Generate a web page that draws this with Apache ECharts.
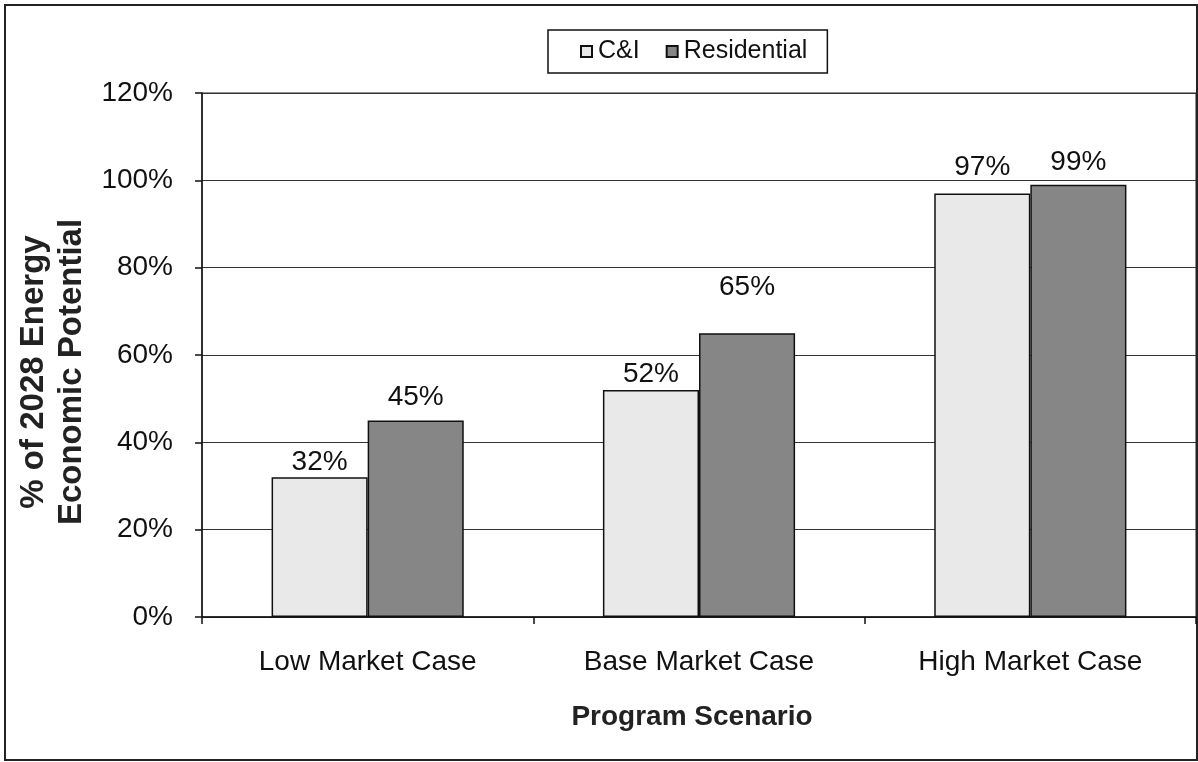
<!DOCTYPE html>
<html>
<head>
<meta charset="utf-8">
<title>Program Scenario – % of 2028 Energy Economic Potential</title>
<script src="https://cdn.jsdelivr.net/npm/echarts@6/dist/echarts.min.js"></script>
<style>
  html, body { margin: 0; padding: 0; background: #fff; }
  #chart { width: 1198px; height: 762px; }
</style>
</head>
<body>
<div id="chart"></div>
<script>
// Scenario categories and the share of 2028 economic energy potential reached
const categories = ['Low Market Case', 'Base Market Case', 'High Market Case'];
const seriesNames = ['C&I', 'Residential'];
const ciValues = [32, 52, 97];
const residentialValues = [45, 65, 99];
// Gap (px) between each bar top and its value label
const ciLabelGaps = [1, 2, 12];
const residentialLabelGaps = [9, 32, 8];
const yTicks = [0, 20, 40, 60, 80, 100, 120];

const FONT = '"Liberation Sans", Arial, sans-serif';
const INK = '#111';

function withLabels(values, gaps) {
  return values.map((v, i) => ({ value: v, label: { distance: gaps[i] } }));
}

const chart = echarts.init(document.getElementById('chart'), null, { renderer: 'canvas' });

chart.setOption({
  animation: false,
  backgroundColor: '#fff',
  textStyle: { fontFamily: FONT, color: INK },
  graphic: [{
    type: 'rect',
    shape: { x: 5, y: 5, width: 1192, height: 755 },
    style: { fill: 'none', stroke: '#222', lineWidth: 2 },
    silent: true,
    z: -1
  }],
  legend: {
    data: seriesNames,
    left: 548,
    top: 30,
    padding: [9, 20, 9, 32],
    borderColor: '#111',
    borderWidth: 1.5,
    itemWidth: 11,
    itemHeight: 11,
    itemGap: 26,
    icon: 'rect',
    textStyle: { fontFamily: FONT, fontSize: 25, color: INK, padding: [0, 0, 0, 1] }
  },
  grid: {
    left: 202,
    right: 2,
    top: 93,
    bottom: 145,
    show: true,
    borderColor: '#222',
    borderWidth: 1,
    backgroundColor: 'transparent'
  },
  xAxis: {
    type: 'category',
    data: categories,
    name: 'Program Scenario',
    nameLocation: 'middle',
    nameGap: 86,
    nameTextStyle: { fontFamily: FONT, fontSize: 28, fontWeight: 'bold', color: '#222', padding: [0, 14, 0, 0] },
    axisLine: { lineStyle: { color: '#111', width: 1.5 } },
    axisTick: { show: true, length: 7, lineStyle: { color: '#111', width: 1.5 } },
    axisLabel: { fontFamily: FONT, fontSize: 28, color: INK, margin: 31 }
  },
  yAxis: {
    type: 'value',
    min: 0,
    max: 120,
    interval: 20,
    name: '% of 2028 Energy\nEconomic Potential',
    nameLocation: 'middle',
    nameGap: 97,
    nameTextStyle: {
      fontFamily: FONT,
      fontSize: 33,
      fontWeight: 'bold',
      color: '#222',
      lineHeight: 38,
      padding: [0, 34, 0, 0]
    },
    axisLine: { show: true, lineStyle: { color: '#111', width: 1.5 } },
    axisTick: { show: true, length: 7, lineStyle: { color: '#111', width: 1.5 } },
    axisLabel: {
      fontFamily: FONT,
      fontSize: 28,
      color: INK,
      margin: 29,
      formatter: v => (yTicks.includes(v) ? v + '%' : '')
    },
    splitLine: { show: true, lineStyle: { color: '#333', width: 1 } }
  },
  series: [
    {
      name: seriesNames[0],
      type: 'bar',
      data: withLabels(ciValues, ciLabelGaps),
      barGap: '0%',
      barCategoryGap: '42%',
      itemStyle: { color: '#e9e9e9', borderColor: '#111', borderWidth: 1.5 },
      label: {
        show: true,
        position: 'top',
        fontFamily: FONT,
        fontSize: 28,
        color: INK,
        formatter: p => p.value + '%'
      }
    },
    {
      name: seriesNames[1],
      type: 'bar',
      data: withLabels(residentialValues, residentialLabelGaps),
      barGap: '0%',
      barCategoryGap: '42%',
      itemStyle: { color: '#868686', borderColor: '#111', borderWidth: 1.5 },
      label: {
        show: true,
        position: 'top',
        fontFamily: FONT,
        fontSize: 28,
        color: INK,
        formatter: p => p.value + '%'
      }
    }
  ]
});
</script>
</body>
</html>
